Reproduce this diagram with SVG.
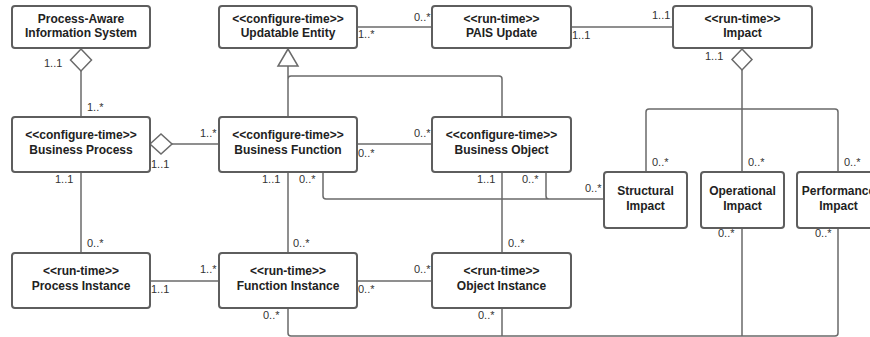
<svg xmlns="http://www.w3.org/2000/svg" width="870" height="337" viewBox="0 0 870 337">
<style>
.box{fill:#fff;stroke:#5e5e5e;stroke-width:2}
.t{font-family:"Liberation Sans",Arial,sans-serif;font-size:12px;font-weight:bold;fill:#222;text-anchor:middle}
.l{font-family:"Liberation Sans",Arial,sans-serif;font-size:11px;fill:#333}
.c{fill:none;stroke:#6a6a6a;stroke-width:1.5}
.h{fill:#fff;stroke:#6a6a6a;stroke-width:1.5}
</style>
<rect width="870" height="337" fill="#fff"/>
<g id="connectors">
<path class="c" d="M81,71 L81,117"/>
<path class="c" d="M357,27 L432,27"/>
<path class="c" d="M571,27 L673,27"/>
<path class="c" d="M742,70 L742,172 M646,172 L646,112 Q646,109 649,109 L835,109 Q838,109 838,112 L838,172"/>
<path class="c" d="M288,117 L288,66 M502,117 L502,79 Q502,76 499,76 L291,76 Q288,76 288,79"/>
<path class="c" d="M172,144 L219,144"/>
<path class="c" d="M357,144 L432,144"/>
<path class="c" d="M81,172 L81,253"/>
<path class="c" d="M288,172 L288,253"/>
<path class="c" d="M502,172 L502,253"/>
<path class="c" d="M323,172 L323,196 Q323,199 326,199 L604,199 M546,172 L546,196 Q546,199 549,199"/>
<path class="c" d="M150,281 L219,281"/>
<path class="c" d="M357,281 L432,281"/>
<path class="c" d="M288,308 L288,333 Q288,336 291,336 L835,336 Q838,336 838,333 L838,228 M502,308 L502,336 M742,228 L742,336"/>
<polygon class="h" points="81,49 91.5,60 81,71 70.5,60"/>
<polygon class="h" points="742,49 752,59.5 742,70 732,59.5"/>
<polygon class="h" points="150,144 161,134 172,144 161,154"/>
<polygon class="h" points="288,49 278,66 298,66"/>
<text class="l" x="44" y="67">1..1</text>
<text class="l" x="87" y="111">1..*</text>
<text class="l" x="414" y="21">0..*</text>
<text class="l" x="358" y="38">1..*</text>
<text class="l" x="572" y="39">1..1</text>
<text class="l" x="652" y="19">1..1</text>
<text class="l" x="705" y="60">1..1</text>
<text class="l" x="652" y="166">0..*</text>
<text class="l" x="748" y="166">0..*</text>
<text class="l" x="844" y="166">0..*</text>
<text class="l" x="200" y="137">1..*</text>
<text class="l" x="151" y="168">1..1</text>
<text class="l" x="414" y="137">0..*</text>
<text class="l" x="358" y="157">0..*</text>
<text class="l" x="55" y="183">1..1</text>
<text class="l" x="262" y="183">1..1</text>
<text class="l" x="299" y="183">0..*</text>
<text class="l" x="477" y="183">1..1</text>
<text class="l" x="522" y="183">0..*</text>
<text class="l" x="585" y="192">0..*</text>
<text class="l" x="87" y="247">0..*</text>
<text class="l" x="293" y="247">0..*</text>
<text class="l" x="508" y="247">0..*</text>
<text class="l" x="718" y="237">0..*</text>
<text class="l" x="815" y="237">0..*</text>
<text class="l" x="200" y="273">1..*</text>
<text class="l" x="151" y="293">1..1</text>
<text class="l" x="414" y="273">0..*</text>
<text class="l" x="358" y="293">0..*</text>
<text class="l" x="263" y="319">0..*</text>
<text class="l" x="478" y="319">0..*</text>
</g>
<g id="pais"><rect class="box" x="12" y="6" width="138" height="42" rx="3"/><text class="t" x="81" y="23">Process-Aware</text><text class="t" x="81" y="37">Information System</text></g>
<g id="updatable-entity"><rect class="box" x="219" y="6" width="138" height="42" rx="3"/><text class="t" x="288" y="23">&lt;&lt;configure-time&gt;&gt;</text><text class="t" x="288" y="37">Updatable Entity</text></g>
<g id="pais-update"><rect class="box" x="432" y="6" width="139" height="42" rx="3"/><text class="t" x="501.5" y="23">&lt;&lt;run-time&gt;&gt;</text><text class="t" x="501.5" y="37">PAIS Update</text></g>
<g id="impact"><rect class="box" x="673" y="6" width="139" height="42" rx="3"/><text class="t" x="742.5" y="23">&lt;&lt;run-time&gt;&gt;</text><text class="t" x="742.5" y="37">Impact</text></g>
<g id="business-process"><rect class="box" x="12" y="117" width="138" height="55" rx="3"/><text class="t" x="81" y="139">&lt;&lt;configure-time&gt;&gt;</text><text class="t" x="81" y="154">Business Process</text></g>
<g id="business-function"><rect class="box" x="219" y="117" width="138" height="55" rx="3"/><text class="t" x="288" y="139">&lt;&lt;configure-time&gt;&gt;</text><text class="t" x="288" y="154">Business Function</text></g>
<g id="business-object"><rect class="box" x="432" y="117" width="139" height="55" rx="3"/><text class="t" x="501.5" y="139">&lt;&lt;configure-time&gt;&gt;</text><text class="t" x="501.5" y="154">Business Object</text></g>
<g id="structural-impact"><rect class="box" x="604" y="172" width="83" height="56" rx="3"/><text class="t" x="645.5" y="195">Structural</text><text class="t" x="645.5" y="210">Impact</text></g>
<g id="operational-impact"><rect class="box" x="701" y="172" width="83" height="56" rx="3"/><text class="t" x="742.5" y="195">Operational</text><text class="t" x="742.5" y="210">Impact</text></g>
<g id="performance-impact"><rect class="box" x="797" y="172" width="83" height="56" rx="3"/><text class="t" x="838.5" y="195">Performance</text><text class="t" x="838.5" y="210">Impact</text></g>
<g id="process-instance"><rect class="box" x="12" y="253" width="138" height="55" rx="3"/><text class="t" x="81" y="275">&lt;&lt;run-time&gt;&gt;</text><text class="t" x="81" y="290">Process Instance</text></g>
<g id="function-instance"><rect class="box" x="219" y="253" width="138" height="55" rx="3"/><text class="t" x="288" y="275">&lt;&lt;run-time&gt;&gt;</text><text class="t" x="288" y="290">Function Instance</text></g>
<g id="object-instance"><rect class="box" x="432" y="253" width="139" height="55" rx="3"/><text class="t" x="501.5" y="275">&lt;&lt;run-time&gt;&gt;</text><text class="t" x="501.5" y="290">Object Instance</text></g>
</svg>
